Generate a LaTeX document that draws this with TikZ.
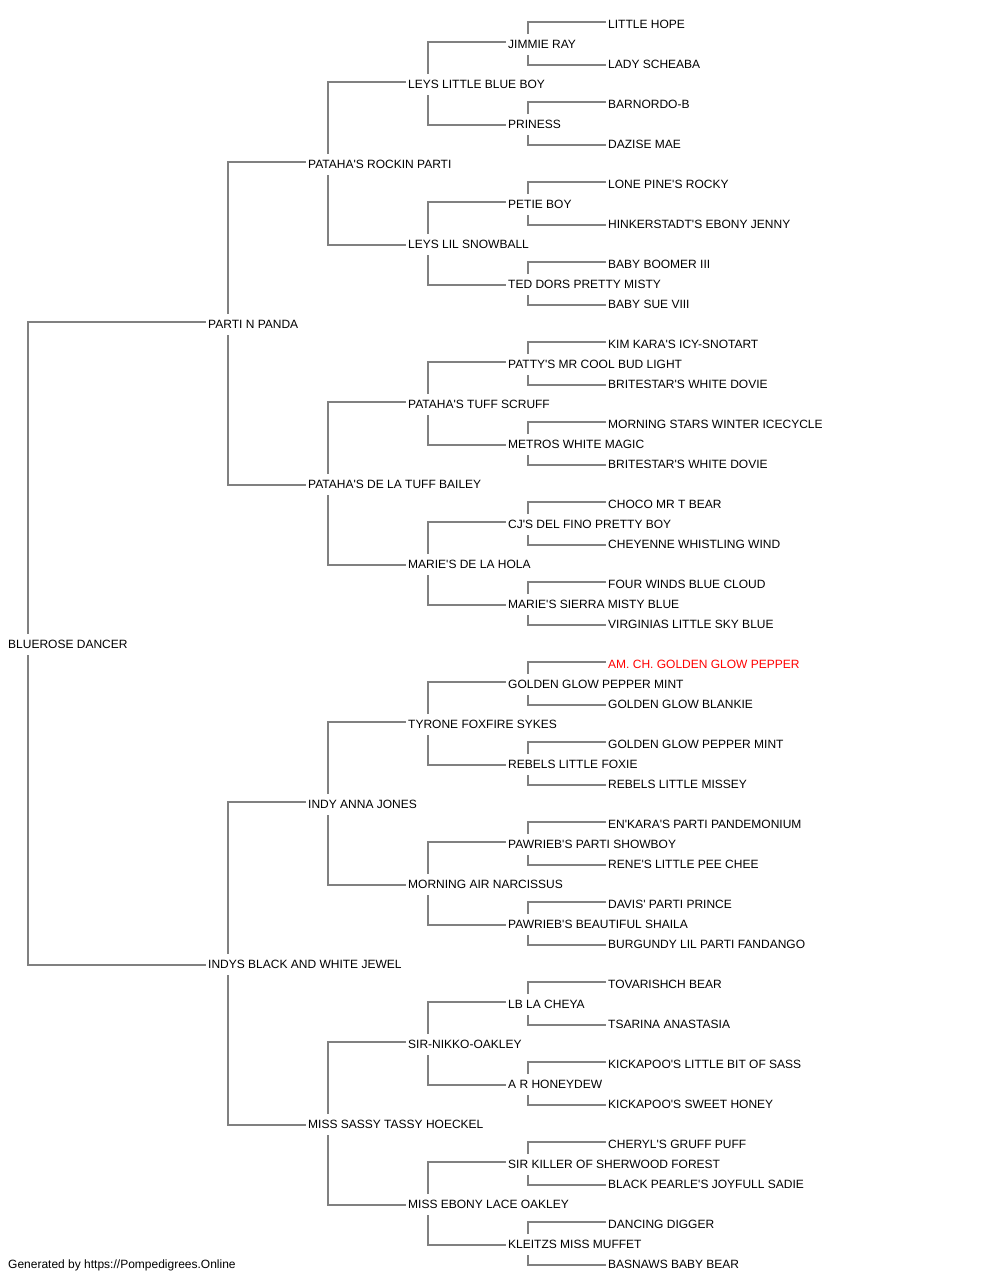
\documentclass[tikz,border=0pt]{standalone}
\usepackage{fontspec}
\newfontfamily\lib{Liberation Sans}
\definecolor{linegray}{HTML}{808080}
\definecolor{redname}{HTML}{FF0000}
\pgfdeclarelayer{bg}
\pgfsetlayers{bg,main}
\tikzset{
  nm/.style={anchor=west, fill=white, inner xsep=2pt, inner ysep=0pt,
    minimum height=21pt, text height=8.6pt, text depth=0pt,
    font=\lib\fontsize{12}{14}\selectfont},
  ln/.style={draw=linegray, line width=1.3pt},
}
\begin{document}
\begin{tikzpicture}[x=1pt,y=-1pt]
\useasboundingbox (0,0) rectangle (1000,1280);
% generation 0
\node[nm] (a) at (6,644) {BLUEROSE DANCER};
% generation 1
\node[nm] (b0) at (206,324) {PARTI N PANDA};
\node[nm] (b1) at (206,964) {INDYS BLACK AND WHITE JEWEL};
% generation 2
\foreach \t [count=\i from 0] in {PATAHA'S ROCKIN PARTI, PATAHA'S DE LA TUFF BAILEY, INDY ANNA JONES, MISS SASSY TASSY HOECKEL}
  \node[nm] (c\i) at (306,{164+320*\i}) {\t};
% generation 3
\foreach \t [count=\i from 0] in {LEYS LITTLE BLUE BOY, LEYS LIL SNOWBALL, PATAHA'S TUFF SCRUFF, MARIE'S DE LA HOLA, TYRONE FOXFIRE SYKES, MORNING AIR NARCISSUS, SIR-NIKKO-OAKLEY, MISS EBONY LACE OAKLEY}
  \node[nm] (d\i) at (406,{84+160*\i}) {\t};
% generation 4
\foreach \t [count=\i from 0] in {JIMMIE RAY, PRINESS, PETIE BOY, TED DORS PRETTY MISTY, PATTY'S MR COOL BUD LIGHT, METROS WHITE MAGIC, CJ'S DEL FINO PRETTY BOY, MARIE'S SIERRA MISTY BLUE, GOLDEN GLOW PEPPER MINT, REBELS LITTLE FOXIE, PAWRIEB'S PARTI SHOWBOY, PAWRIEB'S BEAUTIFUL SHAILA, LB LA CHEYA, A R HONEYDEW, SIR KILLER OF SHERWOOD FOREST, KLEITZS MISS MUFFET}
  \node[nm] (e\i) at (506,{44+80*\i}) {\t};
% generation 5
\foreach \t [count=\i from 0] in {LITTLE HOPE, LADY SCHEABA, BARNORDO-B, DAZISE MAE, LONE PINE'S ROCKY, HINKERSTADT'S EBONY JENNY, BABY BOOMER III, BABY SUE VIII, KIM KARA'S ICY-SNOTART, BRITESTAR'S WHITE DOVIE, MORNING STARS WINTER ICECYCLE, BRITESTAR'S WHITE DOVIE, CHOCO MR T BEAR, CHEYENNE WHISTLING WIND, FOUR WINDS BLUE CLOUD, VIRGINIAS LITTLE SKY BLUE, {\color{redname}AM. CH. GOLDEN GLOW PEPPER}, GOLDEN GLOW BLANKIE, GOLDEN GLOW PEPPER MINT, REBELS LITTLE MISSEY, EN'KARA'S PARTI PANDEMONIUM, RENE'S LITTLE PEE CHEE, DAVIS' PARTI PRINCE, BURGUNDY LIL PARTI FANDANGO, TOVARISHCH BEAR, TSARINA ANASTASIA, KICKAPOO'S LITTLE BIT OF SASS, KICKAPOO'S SWEET HONEY, CHERYL'S GRUFF PUFF, BLACK PEARLE'S JOYFULL SADIE, DANCING DIGGER, BASNAWS BABY BEAR}
  \node[nm] (f\i) at (606,{24+40*\i}) {\t};
% footer
\node[anchor=base west, inner sep=0pt, font=\lib\fontsize{12}{14}\selectfont] (foot) at (8,1268.3) {Generated by https://Pompedigrees.Online};
% connectors
\begin{pgfonlayer}{bg}
  \draw[ln] (a.west) ++(22,0) |- ([yshift=2pt]b0.west);
  \draw[ln] (a.west) ++(22,0) |- ([yshift=-1pt]b1.west);
  \foreach \i in {0,1} {
    \pgfmathtruncatemacro\ca{2*\i}
    \pgfmathtruncatemacro\cb{2*\i+1}
    \draw[ln] (b\i.west) ++(22,0) |- ([yshift=2pt]c\ca.west);
    \draw[ln] (b\i.west) ++(22,0) |- ([yshift=-1pt]c\cb.west);
  }
  \foreach \i in {0,...,3} {
    \pgfmathtruncatemacro\ca{2*\i}
    \pgfmathtruncatemacro\cb{2*\i+1}
    \draw[ln] (c\i.west) ++(22,0) |- ([yshift=2pt]d\ca.west);
    \draw[ln] (c\i.west) ++(22,0) |- ([yshift=-1pt]d\cb.west);
  }
  \foreach \i in {0,...,7} {
    \pgfmathtruncatemacro\ca{2*\i}
    \pgfmathtruncatemacro\cb{2*\i+1}
    \draw[ln] (d\i.west) ++(22,0) |- ([yshift=2pt]e\ca.west);
    \draw[ln] (d\i.west) ++(22,0) |- ([yshift=-1pt]e\cb.west);
  }
  \foreach \i in {0,...,15} {
    \pgfmathtruncatemacro\ca{2*\i}
    \pgfmathtruncatemacro\cb{2*\i+1}
    \draw[ln] (e\i.west) ++(22,0) |- ([yshift=2pt]f\ca.west);
    \draw[ln] (e\i.west) ++(22,0) |- ([yshift=-1pt]f\cb.west);
  }
\end{pgfonlayer}
\end{tikzpicture}
\end{document}
